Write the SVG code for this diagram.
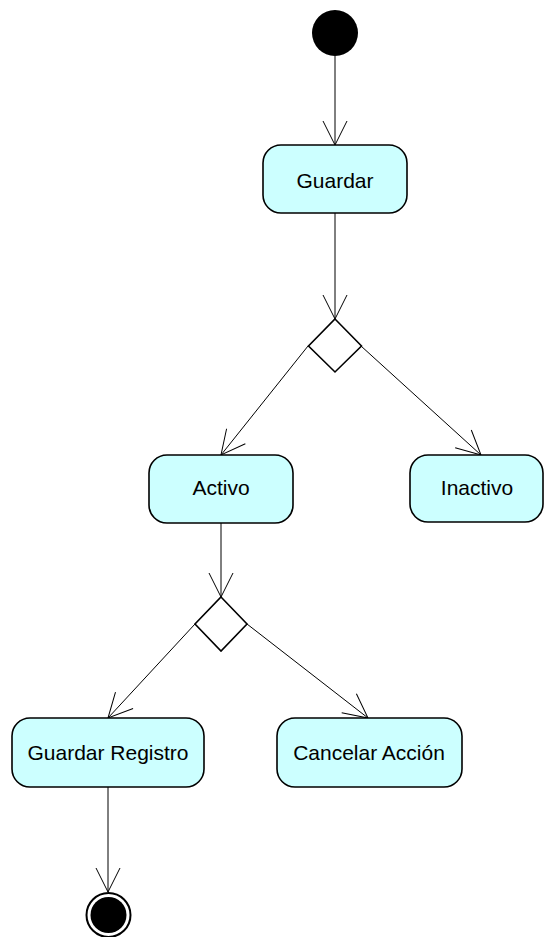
<svg xmlns="http://www.w3.org/2000/svg" width="544" height="937" viewBox="0 0 544 937">
<style>
.act{fill:#ccffff;stroke:#000;stroke-width:1.6}
.dec{fill:#fff;stroke:#000;stroke-width:1.6}
.lbl{font-family:"Liberation Sans",Arial,sans-serif;font-size:21px;fill:#000;text-anchor:middle}
.con{stroke:#000;stroke-width:1;fill:none;marker-end:url(#arr)}
</style>
<defs>
<marker id="arr" markerUnits="userSpaceOnUse" markerWidth="30" markerHeight="30" viewBox="-28 -15 30 30" refX="0" refY="0" orient="auto" overflow="visible">
<path d="M-24,-12 L0,0 L-24,12" fill="none" stroke="#000" stroke-width="1"/>
</marker>
</defs>
<rect width="544" height="937" fill="#fff"/>
<g id="connectors">
<line class="con" x1="335" y1="56" x2="335" y2="145"/>
<line class="con" x1="335" y1="213" x2="335" y2="319"/>
<line class="con" x1="308" y1="346" x2="221" y2="455"/>
<line class="con" x1="361" y1="346" x2="481" y2="455"/>
<line class="con" x1="221" y1="523" x2="221" y2="597"/>
<line class="con" x1="195" y1="624" x2="108" y2="718"/>
<line class="con" x1="247" y1="624" x2="368" y2="718"/>
<line class="con" x1="108" y1="787" x2="108" y2="892"/>
</g>
<g id="start"><circle cx="335" cy="33" r="23" fill="#000"/></g>
<g id="guardar"><rect class="act" x="263" y="145" width="144" height="68" rx="18"/><text class="lbl" x="335" y="188">Guardar</text></g>
<g id="decision1"><polygon class="dec" points="335,319 361.5,346 335,372 308.5,346"/></g>
<g id="activo"><rect class="act" x="149" y="455" width="144" height="68" rx="18"/><text class="lbl" x="221" y="495">Activo</text></g>
<g id="inactivo"><rect class="act" x="410" y="455" width="133" height="67" rx="18"/><text class="lbl" x="477" y="495">Inactivo</text></g>
<g id="decision2"><polygon class="dec" points="221,597 247,624 221,651 195,624"/></g>
<g id="guardarRegistro"><rect class="act" x="12" y="718" width="192" height="69" rx="18"/><text class="lbl" x="108" y="760">Guardar Registro</text></g>
<g id="cancelarAccion"><rect class="act" x="277" y="718" width="185" height="69" rx="18"/><text class="lbl" x="369" y="760">Cancelar Acción</text></g>
<g id="end"><circle cx="108.5" cy="915" r="22" fill="#fff" stroke="#000" stroke-width="2"/><circle cx="108.5" cy="915" r="18" fill="#000"/></g>
</svg>
